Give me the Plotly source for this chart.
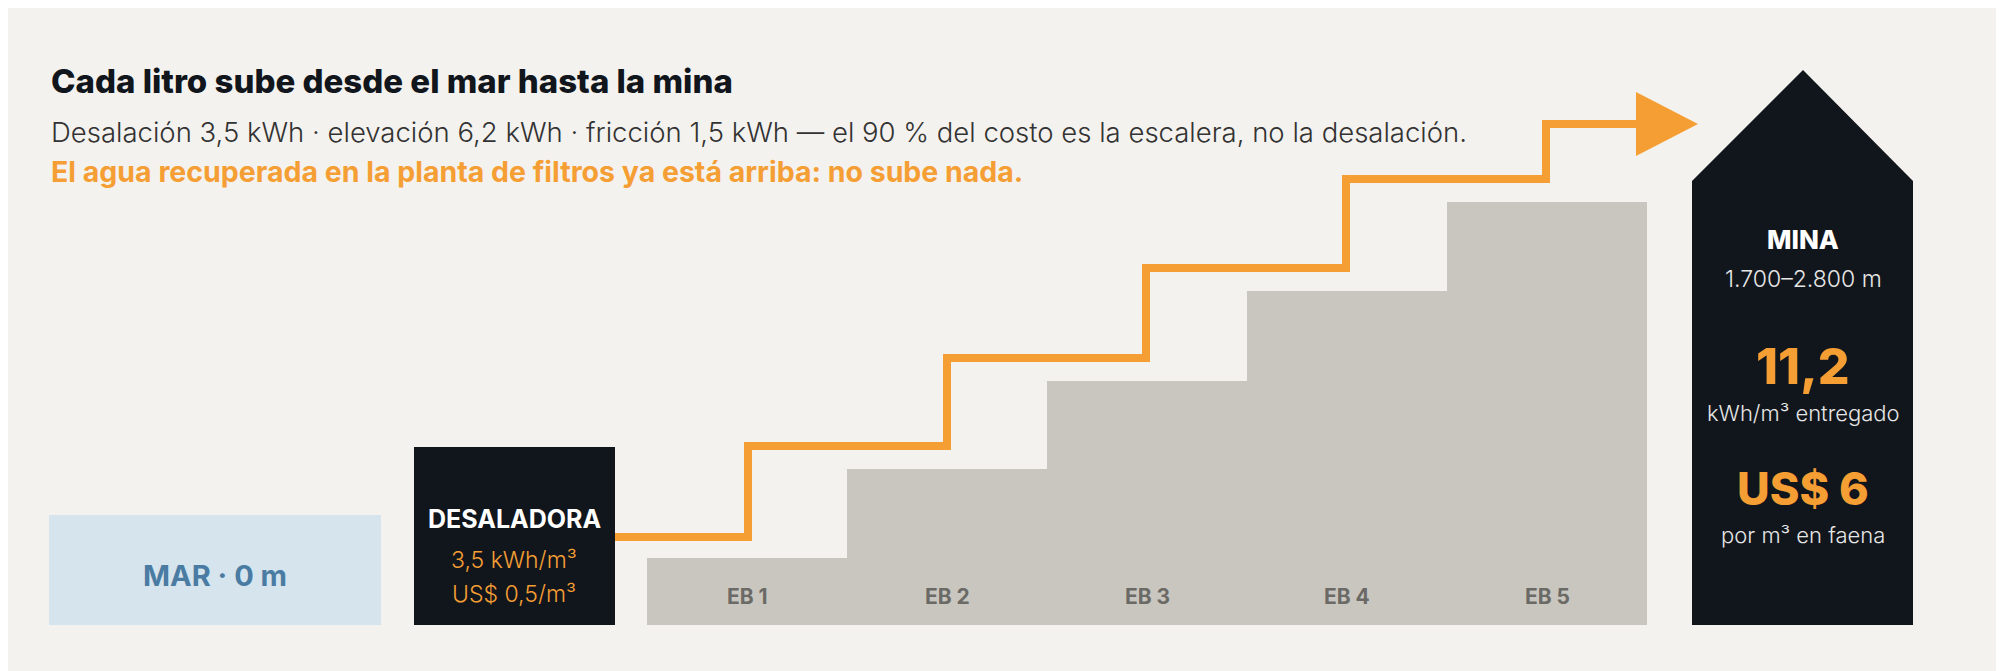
import plotly.graph_objects as go

W, H = 2004, 671
BG = "#f4f2ee"; DARK = "#11161c"; ORANGE = "#f59e34"; GREY = "#c8c6be"
FONT = "Inter"
DX, DY = -8, 8

# data (pixel-space units, y measured up from bottom of canvas)
stations = ["EB 1", "EB 2", "EB 3", "EB 4", "EB 5"]
station_x = [747, 947, 1147, 1347, 1547]
station_top = [113, 202, 290, 380, 469]
base_y = 46
pipe_x = [615, 748, 947, 1146, 1346, 1546, 1640]
pipe_y = [134, 225, 313, 403, 492, 547, 547]

fig = go.Figure()

def poly(xs, ys, color):
    fig.add_trace(go.Scatter(x=[v + DX for v in xs], y=[v + DY for v in ys], fill="toself",
                             fillcolor=color, line=dict(width=0), mode="lines", hoverinfo="skip"))

poly([49, 381, 381, 49, 49], [46, 46, 156, 156, 46], "#d6e4ed")
poly([414, 615, 615, 414, 414], [46, 46, 224, 224, 46], DARK)
fig.add_trace(go.Bar(x=[v + DX for v in station_x], y=[t - base_y for t in station_top], base=base_y + DY,
                     width=200, marker=dict(color=GREY, line=dict(width=0)), hoverinfo="skip"))
fig.add_trace(go.Scatter(x=[v + DX for v in pipe_x], y=[v + DY for v in pipe_y], mode="lines",
                         line=dict(color=ORANGE, width=8, shape="hv"), hoverinfo="skip"))
poly([1636, 1698, 1636, 1636], [579, 547, 515, 579], ORANGE)
poly([1692, 1913, 1913, 1803, 1692, 1692], [46, 46, 490, 601, 490, 46], DARK)

ann = []
def t(x, y, s, size, color, weight=400, anchor="center"):
    ann.append(dict(x=x + DX, y=H - y + DY, text=s, showarrow=False, xanchor=anchor, yanchor="middle",
                    font=dict(family=FONT, size=size, color=color, weight=weight)))

t(49, 81, "Cada litro sube desde el mar hasta la mina", 33, DARK, 800, "left")
t(49, 132, "Desalación 3,5 kWh · elevación 6,2 kWh · fricción 1,5 kWh — el 90 % del costo es la escalera, no la desalación.", 27.5, "#333", 300, "left")
t(49, 171, "El agua recuperada en la planta de filtros ya está arriba: no sube nada.", 28.5, ORANGE, 700, "left")
t(215, 575, "MAR · 0 m", 29, "#4a7ca3", 700)
t(514, 519, "DESALADORA", 25, "white", 700)
t(514, 560, "3,5 kWh/m³", 23, ORANGE, 300)
t(514, 594, "US$ 0,5/m³", 23, ORANGE, 300)
for sx, s in zip(station_x, stations):
    t(sx, 596, s, 21, "#6b6a66", 700)
t(1803, 239, "MINA", 26, "white", 800)
t(1803, 279, "1.700–2.800 m", 23, "#e6e6e6", 300)
t(1803, 366, "11,2", 50, ORANGE, 800)
t(1803, 413, "kWh/m³ entregado", 22, "#e6e6e6", 300)
t(1803, 488, "US$ 6", 45, ORANGE, 800)
t(1803, 535, "por m³ en faena", 22, "#e6e6e6", 300)

fig.update_layout(width=W, height=H, margin=dict(l=0, r=0, t=0, b=0), paper_bgcolor=BG,
                  plot_bgcolor=BG, showlegend=False, annotations=ann, bargap=0,
                  xaxis=dict(range=[0, W], visible=False, fixedrange=True),
                  yaxis=dict(range=[0, H], visible=False, fixedrange=True))
fig.write_html("out.html", config={"displayModeBar": False})
